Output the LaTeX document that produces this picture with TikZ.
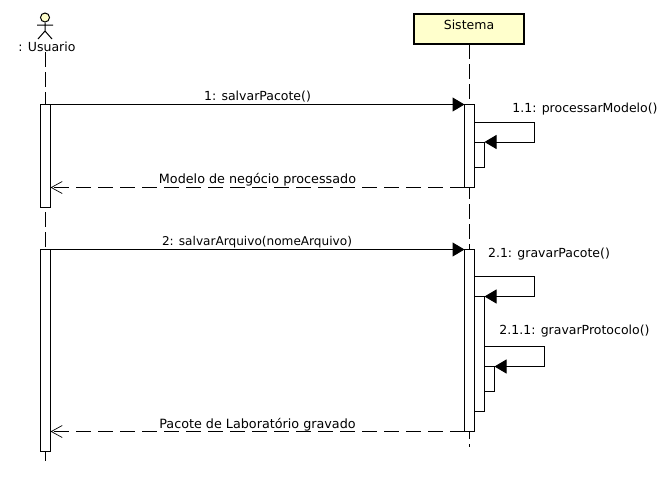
\documentclass[tikz,border=0pt]{standalone}
\usepackage{fontspec}
\setmainfont{DejaVu Sans}
\usetikzlibrary{arrows.meta,calc}
\definecolor{umlfill}{HTML}{FFFFCC}
\tikzset{
  x=1pt,y=-1pt,
  bar/.style={draw=black,fill=white,line width=1pt,inner sep=0pt,outer sep=0pt,minimum width=10pt,rectangle},
  lifeline/.style={line width=1pt,dash pattern=on 15pt off 5pt},
  syncmsg/.style={line width=1pt,-{Triangle[length=12pt,width=14pt,fill=black]}},
  retmsg/.style={line width=1pt,dash pattern=on 15pt off 7pt,-{Straight Barb[length=11pt,width=12pt,line width=0.7pt]}},
  lbl/.style={font=\fontsize{12.5pt}{14pt}\selectfont,inner sep=0pt,text=black,anchor=base},
  lblwide/.style={lbl,font=\fontsize{12.75pt}{14pt}\selectfont},
  lblnarrow/.style={lbl,font=\fontsize{12.1pt}{14pt}\selectfont},
}
\begin{document}
\begin{tikzpicture}
\useasboundingbox (0,0) rectangle (670,477);
\fill[white] (0,0) rectangle (670,477);
% lifelines
\coordinate (systop) at (469.5,44);
\coordinate (usrtop) at (45.5,52);
\coordinate (usrend) at (45.5,461);
\coordinate (sysend) at (469.5,447);
\draw[lifeline] (usrtop) -- (usrend);
\draw[lifeline] (systop) -- (sysend);
\node[draw=black,fill=umlfill,line width=2pt,minimum width=110pt,minimum height=30pt,inner sep=0pt] (sys) at (469,29) {};
\node[lbl] (sysname) at (469,29.5) {Sistema};
\node[lbl] (usr) at (47,51.3) {: Usuario};
% actor
\node[circle,draw=black,fill=umlfill,line width=1pt,minimum size=9pt,inner sep=0pt] (head) at (45,17.5) {};
\coordinate (hip) at (45,31);
\coordinate (armL) at (37,25);
\coordinate (armR) at (53,25);
\coordinate (footL) at (38,39);
\coordinate (footR) at (52,39);
\draw[line width=1pt] (head.south) -- (hip) (armL) -- (armR) (footL) -- (hip) -- (footR);
% activation bars
\node[bar,minimum height=103pt] (a1) at (45.5,156) {};
\node[bar,minimum height=202pt] (a2) at (45.5,350.5) {};
\node[bar,minimum height=83pt] (s1) at (469.5,146) {};
\node[bar,minimum height=182pt] (s2) at (469.5,340.5) {};
\node[bar,minimum height=25pt] (s11) at (479.5,154.5) {};
\node[bar,minimum height=115pt] (s21) at (479.5,354) {};
\node[bar,minimum height=25pt] (s211) at (489.5,379) {};
% messages
\draw[syncmsg] (a1.north east) -- (s1.north west);
\draw[retmsg] (s1.south west) -- (a1.east |- s1.south);
\draw[syncmsg] (a2.north east) -- (s2.north west);
\draw[retmsg] (s2.south west) -- (a2.east |- s2.south);
% self messages
\coordinate (c1) at (474.5,122.5);
\coordinate (c1r) at (534.5,122.5);
\coordinate (c2) at (474.5,276.5);
\coordinate (c2r) at (534.5,276.5);
\coordinate (c3) at (484.5,346.5);
\coordinate (c3r) at (544.5,346.5);
\draw[syncmsg] (c1) -- (c1r) |- (s11.north east);
\draw[syncmsg] (c2) -- (c2r) |- (s21.north east);
\draw[syncmsg] (c3) -- (c3r) |- (s211.north east);
% labels
\node[lbl] (m1) at (257.5,100) {1: salvarPacote()};
\node[lbl] (m11) at (585,112) {1.1: processarModelo()};
\node[lblwide] (m12) at (257.5,183) {Modelo de negócio processado};
\node[lblnarrow] (m2) at (257,245.5) {2: salvarArquivo(nomeArquivo)};
\node[lbl] (m21) at (549,257) {2.1: gravarPacote()};
\node[lbl] (m211) at (574.5,334) {2.1.1: gravarProtocolo()};
\node[lblwide] (m22) at (257.5,428) {Pacote de Laboratório gravado};
\end{tikzpicture}
\end{document}
